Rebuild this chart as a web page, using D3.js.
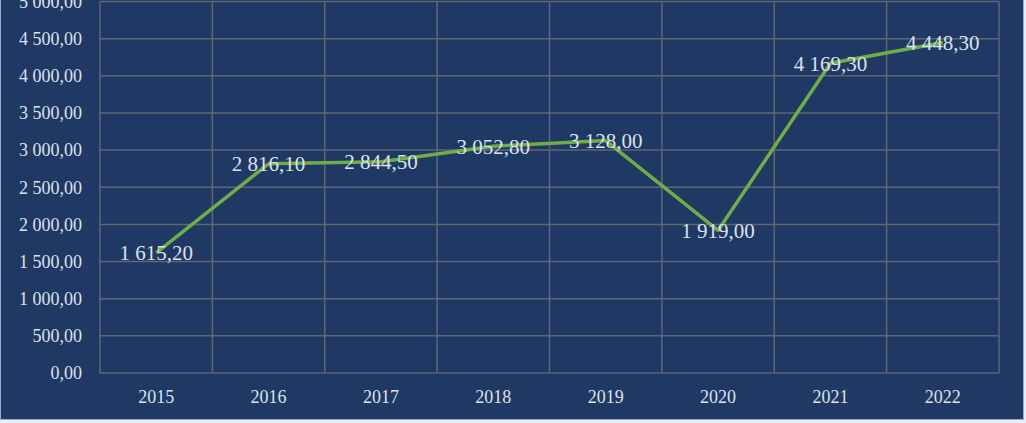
<!DOCTYPE html>
<html><head><meta charset="utf-8">
<script src="https://cdn.jsdelivr.net/npm/d3@7"></script>
<style>html,body{margin:0;padding:0;background:#fff;}svg{display:block;}</style>
</head><body>
<svg id="c" width="1026" height="423"></svg>
<script>
const categories = ["2015","2016","2017","2018","2019","2020","2021","2022"];
const values = [1615.2, 2816.1, 2844.5, 3052.8, 3128.0, 1919.0, 4169.3, 4448.3];
const yTicks = [0,500,1000,1500,2000,2500,3000,3500,4000,4500,5000];

const W = 1026, H = 423;
const m = {left:100, right:999, top:1.5, bottom:373};
const svg = d3.select("#c");
const fmt = v => { const s = v.toFixed(2).replace(".", ","); const [i,d] = s.split(","); return i.replace(/\B(?=(\d{3})+(?!\d))/g, " ") + "," + d; };

svg.append("rect").attr("x",0).attr("y",0).attr("width",W).attr("height",H).attr("fill","#e9edf5");
svg.append("rect").attr("x",0).attr("y",0).attr("width",1023.5).attr("height",419).attr("fill","#1f3864");
svg.append("rect").attr("x",0.5).attr("y",-2).attr("width",1023).attr("height",421.5)
  .attr("fill","none").attr("stroke","#9aabcb").attr("stroke-width",1);

const x = d3.scaleBand().domain(categories).range([m.left, m.right]);
const y = d3.scaleLinear().domain([0,5000]).range([m.bottom, m.top]);

const grid = svg.append("g");
grid.selectAll("line.h").data(yTicks).join("line").attr("class","h")
  .attr("x1",m.left).attr("x2",m.right).attr("y1",d=>y(d)).attr("y2",d=>y(d))
  .attr("stroke","#5f6676").attr("stroke-width",1.5);
const vx = categories.map(c=>x(c)).concat([m.right]);
grid.selectAll("line.v").data(vx).join("line").attr("class","v")
  .attr("x1",d=>d).attr("x2",d=>d).attr("y1",m.top).attr("y2",m.bottom)
  .attr("stroke","#5f6676").attr("stroke-width",1.5);

const yAxis = d3.axisLeft(y).tickValues(yTicks).tickFormat(fmt).tickSize(0).tickPadding(18);
const ga = svg.append("g").attr("transform",`translate(${m.left},0)`).call(yAxis);
ga.select(".domain").remove();
ga.selectAll("text").attr("fill","#dde2ec").attr("font-family","'Liberation Serif', serif").attr("font-size",18);

const xAxis = d3.axisBottom(x).tickSize(0).tickPadding(17);
const gx = svg.append("g").attr("transform",`translate(0,${m.bottom})`).call(xAxis);
gx.select(".domain").remove();
gx.selectAll("text").attr("fill","#dde2ec").attr("font-family","'Liberation Serif', serif").attr("font-size",18);

const line = d3.line().x((d,i)=>x(categories[i])+x.bandwidth()/2).y(d=>y(d));
svg.append("path").datum(values).attr("d",line).attr("fill","none")
  .attr("stroke","#70ad47").attr("stroke-width",3.5).attr("stroke-linejoin","round");

svg.append("g").selectAll("text").data(values).join("text")
  .attr("x",(d,i)=>x(categories[i])+x.bandwidth()/2)
  .attr("y",d=>y(d)).attr("dy","0.35em").attr("text-anchor","middle")
  .attr("fill","#dde2ec").attr("font-family","'Liberation Serif', serif").attr("font-size",21)
  .text(fmt);
</script>
</body></html>
